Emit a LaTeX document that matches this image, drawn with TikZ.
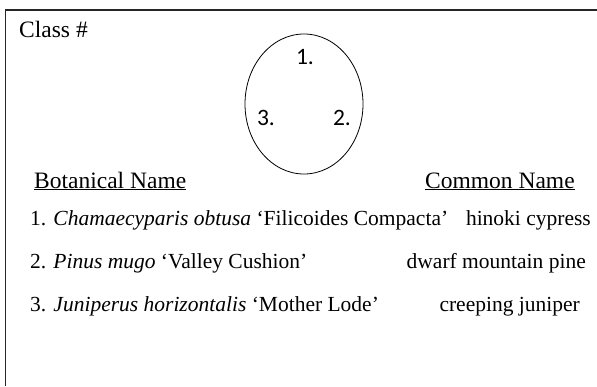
\documentclass[tikz,border=0pt]{standalone}
\usepackage{fontspec}
\usetikzlibrary{shapes.geometric}
\setmainfont{Liberation Serif}
\newfontfamily\calib{Carlito}
\begin{document}
\begin{tikzpicture}[x=1pt,y=1pt,
  serif/.style={inner sep=0pt,font=\fontsize{21.5}{26}\selectfont,anchor=base west},
  head/.style={inner sep=0pt,font=\fontsize{23.5}{28}\selectfont,anchor=base west},
  digit/.style={inner sep=0pt,font=\calib\fontsize{23.5}{28}\selectfont},
  frameline/.style={line width=1.4pt,black!85},
]
\useasboundingbox (0,0) rectangle (597,-386);
\coordinate (tl) at (5.5,-10);
\coordinate (tr) at (597,-10);
\coordinate (bl) at (5.5,-386);
\draw[frameline] (tr) -- (tl) -- (bl);
\node[head] (cls) at (19,-37) {Class \#};
\node[draw,ellipse,minimum width=118pt,minimum height=140pt,inner sep=0pt,line width=0.8pt] (ell) at (304,-104) {};
\node[digit] (d1) at (305,-57) {1.};
\node[digit] (d3) at (266,-118) {3.};
\node[digit] (d2) at (342,-118) {2.};
\node[head] (bot) at (34,-188) {\underline{Botanical Name}};
\node[head] (com) at (425,-188) {\underline{Common Name}};
\node[serif] (r1) at (30,-225) {1. \textit{Chamaecyparis obtusa} ‘Filicoides Compacta’};
\node[serif,anchor=base east] (c1) at (591,-225) {hinoki cypress};
\node[serif] (r2) at (30,-268) {2. \textit{Pinus mugo} ‘Valley Cushion’};
\node[serif,anchor=base east] (c2) at (586,-268) {dwarf mountain pine};
\node[serif] (r3) at (30,-311) {3. \textit{Juniperus horizontalis} ‘Mother Lode’};
\node[serif,anchor=base east] (c3) at (580,-311) {creeping juniper};
\end{tikzpicture}
\end{document}
